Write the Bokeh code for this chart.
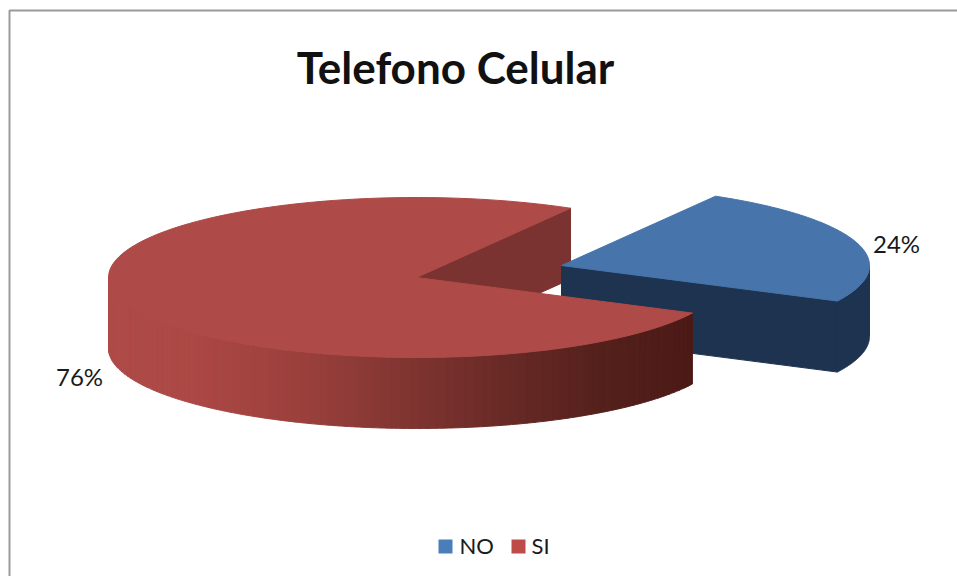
import math
from bokeh.plotting import figure
from bokeh.models import Range1d, ColumnDataSource
from bokeh.embed import file_html
from bokeh.resources import INLINE
from bokeh.core.properties import value

title_text = "Telefono Celular"
categories = ["NO", "SI"]
values = [24, 76]
labels = ["24%", "76%"]
top_colors = ["#4674AB", "#AE4A47"]
legend_colors = ["#4A7EBB", "#BE4B48"]

W, H = 957, 576
p = figure(width=W, height=H, output_backend="svg", toolbar_location=None,
           x_range=Range1d(0, W), y_range=Range1d(H, 0),
           min_border=0, outline_line_color=None, background_fill_color="white",
           border_fill_color="white")
p.axis.visible = False
p.grid.visible = False

# chart frame
p.line(x=[9, 9, W], y=[H, 10, 10], line_color="#9A9A9A", line_width=2)

RX, RY, DEPTH = 308, 80, 71
start_deg = 60.0
total = sum(values)
no_span = values[0] / total * 360.0
si_span = values[1] / total * 360.0
no_from, no_to = start_deg - no_span, start_deg
si_from, si_to = start_deg, start_deg + si_span
no_c = (561, 265)
si_c = (416, 277)


def pt(c, deg, dz=0):
    a = math.radians(deg)
    return c[0] + RX * math.cos(a), c[1] - RY * math.sin(a) + dz


def arc(c, d0, d1, dz=0, n=120):
    out = [pt(c, d0 + (d1 - d0) * i / n, dz) for i in range(n + 1)]
    return [q[0] for q in out], [q[1] for q in out]


def sector(c, d0, d1, color):
    xs, ys = arc(c, d0, d1)
    p.patch([c[0]] + xs, [c[1]] + ys, fill_color=color, line_color=color, line_width=1)


def wall(c, d0, d1, color):
    xs, ys = arc(c, d0, d1)
    xb, yb = arc(c, d0, d1, DEPTH)
    p.patch(xs + xb[::-1], ys + yb[::-1], fill_color=color, line_color=color, line_width=1)


def face(c, deg, color):
    ex, ey = pt(c, deg)
    p.patch([c[0], ex, ex, c[0]], [c[1], ey, ey + DEPTH, c[1] + DEPTH],
            fill_color=color, line_color=color, line_width=1)


# SI back cut face sits behind the NO slice
face(si_c, si_from, "#7A3330")

# NO slice
NAVY = "#1D3350"
face(no_c, no_to - no_span, NAVY)
wall(no_c, no_from, 0, NAVY)
sector(no_c, no_from, no_to, top_colors[0])

# SI slice: side wall shaded from left to right
stops = [(0.00, (174, 74, 71)), (0.14, (172, 72, 69)), (0.33, (155, 64, 60)),
         (0.50, (130, 54, 50)), (0.68, (104, 42, 38)), (0.85, (84, 32, 28)), (1.00, (76, 26, 22))]


def shade(t):
    for (t0, c0), (t1, c1) in zip(stops, stops[1:]):
        if t <= t1:
            f = (t - t0) / (t1 - t0)
            return "#%02x%02x%02x" % tuple(round(a + (b - a) * f) for a, b in zip(c0, c1))
    return "#4c1a16"


n_strips = 90
d_a, d_b = 180.0, si_to
xs_l, ys_l, cols = [], [], []
for i in range(n_strips):
    a0 = d_a + (d_b - d_a) * i / n_strips
    a1 = d_a + (d_b - d_a) * (i + 1) / n_strips
    tx, ty = arc(si_c, a0, a1, 0, 4)
    bx, by = arc(si_c, a0, a1, DEPTH, 4)
    xs_l.append(tx + bx[::-1])
    ys_l.append(ty + by[::-1])
    cols.append(shade((0.5 * (tx[0] + tx[-1]) - (si_c[0] - RX)) / (RX + pt(si_c, si_to)[0] - si_c[0])))
p.patches(xs="xs", ys="ys", fill_color="c", line_color="c", line_width=1,
          source=ColumnDataSource(dict(xs=xs_l, ys=ys_l, c=cols)))
sector(si_c, si_from, si_to, top_colors[1])

# data labels
p.text(x=[896, 79], y=[243, 376], text=labels, text_font=value("Lato"), text_font_size="24px",
       text_color="#1a1a1a", text_align="center", text_baseline="middle")

# title
p.text(x=[455], y=[66], text=[title_text], text_font=value("Lato"), text_font_style="bold",
       text_font_size="44px", text_color="#111111", text_align="center", text_baseline="middle")

# legend
p.scatter(x=[445, 518], y=[546, 546], marker="square", size=14, color=legend_colors, line_color=None)
p.text(x=[459, 531], y=[545, 545], text=categories, text_font=value("Lato"), text_font_size="22px",
       text_color="#1a1a1a", text_align="left", text_baseline="middle")

open("out.html", "w").write(file_html(p, INLINE))
